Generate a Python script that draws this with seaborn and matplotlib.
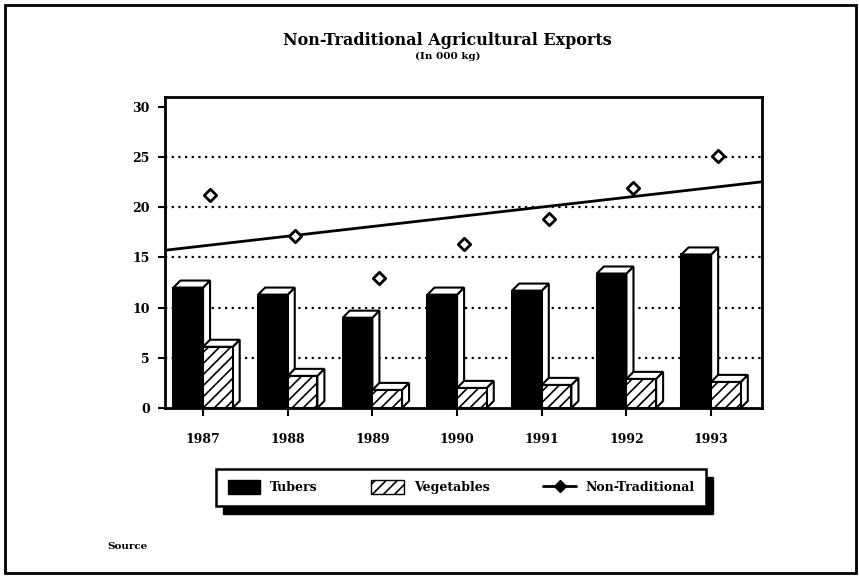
import numpy as np
import pandas as pd
import seaborn as sns
import matplotlib.pyplot as plt
from matplotlib.patches import Polygon, Patch, Rectangle
from matplotlib.lines import Line2D

years = ['1987', '1988', '1989', '1990', '1991', '1992', '1993']
tubers = [12.0, 11.3, 9.0, 11.3, 11.7, 13.4, 15.3]
vegetables = [6.1, 3.2, 1.8, 2.0, 2.3, 2.9, 2.6]
non_traditional = [21.2, 17.1, 13.0, 16.3, 18.8, 21.9, 25.1]
yticks = [0, 5, 10, 15, 20, 25, 30]

df = pd.DataFrame({'year': years * 2,
                   'value': tubers + vegetables,
                   'series': ['Tubers'] * 7 + ['Vegetables'] * 7})
pos = np.arange(len(years))

sns.set_style('white')
plt.rcParams['font.family'] = ['DejaVu Serif']
plt.rcParams['font.weight'] = 'bold'
plt.rcParams['hatch.linewidth'] = 1.2
plt.rcParams['text.color'] = 'black'
plt.rcParams['xtick.color'] = 'black'
plt.rcParams['ytick.color'] = 'black'

fig = plt.figure(figsize=(8.59, 5.76), dpi=100)
ax = fig.add_axes([0.192, 0.2917, 0.695, 0.540])

sns.barplot(data=df, x='year', y='value', hue='series', ax=ax,
            palette={'Tubers': 'black', 'Vegetables': 'white'},
            edgecolor='black', linewidth=1.5, width=0.7, legend=False,
            zorder=3)
for bar in ax.containers[1]:
    bar.set_hatch('///')

# fake 3-D top and side faces on each bar
dx, dy = 0.083, 0.7
for cont in ax.containers:
    for bar in cont:
        x, w, h = bar.get_x(), bar.get_width(), bar.get_height()
        top = Polygon([(x, h), (x + dx, h + dy), (x + w + dx, h + dy), (x + w, h)],
                      facecolor='white', edgecolor='black', lw=1.5, zorder=3)
        side = Polygon([(x + w, 0), (x + w + dx, dy), (x + w + dx, h + dy), (x + w, h)],
                       facecolor='white', edgecolor='black', lw=1.5, zorder=2.9)
        ax.add_patch(side)
        ax.add_patch(top)

ax.set_xlim(-0.45, 6.6)
ax.set_ylim(0, 31)
sns.regplot(x=pos, y=non_traditional, ax=ax, scatter=False, ci=None,
            truncate=False, color='black', line_kws={'lw': 2, 'zorder': 4})
sns.scatterplot(x=pos + dx, y=non_traditional, ax=ax, marker='D', s=40,
                facecolor='white', edgecolor='black', linewidth=2, zorder=5)
ax.set_xlim(-0.45, 6.6)
ax.set_ylim(0, 31)

ax.set_yticks(yticks)
ax.set_yticklabels([str(t) for t in yticks], fontsize=9, fontweight='bold')
ax.set_xticks(pos)
ax.set_xticklabels(years, fontsize=9, fontweight='bold')
ax.tick_params(axis='x', direction='out', length=6, width=1.5, pad=12, bottom=True)
ax.tick_params(axis='y', direction='out', length=5, width=1.5, pad=6, left=True)
ax.set_xlabel('')
ax.set_ylabel('')
for t in yticks[1:-1]:
    ax.axhline(t, color='black', ls=(0, (1, 2)), lw=1.6, zorder=1)
for s in ax.spines.values():
    s.set_color('black')
    s.set_linewidth(2)

fig.text(0.521, 0.93, 'Non-Traditional Agricultural Exports', ha='center',
         va='center', fontsize=11.5, fontweight='bold')
fig.text(0.521, 0.902, '(In 000 kg)', ha='center', va='center',
         fontsize=7.5, fontweight='bold')
fig.text(0.125, 0.052, 'Source', ha='left', va='center', fontsize=7.5,
         fontweight='bold')

handles = [Patch(facecolor='black', edgecolor='black'),
           Patch(facecolor='white', edgecolor='black', hatch='///'),
           Line2D([], [], color='black', lw=2, marker='D', markersize=6)]
leg = fig.legend(handles, ['Tubers', 'Vegetables', 'Non-Traditional'],
                 loc='center', bbox_to_anchor=(0.537, 0.154), ncol=3,
                 frameon=True, fancybox=False, edgecolor='black',
                 prop={'size': 9, 'weight': 'bold'}, columnspacing=4.3,
                 handlelength=2.6, handleheight=1.3, borderpad=0.9,
                 framealpha=1)
leg.get_frame().set_linewidth(1.8)
leg.set_zorder(6)

# black drop shadow behind the legend box
fig.canvas.draw()
bb = leg.get_window_extent().transformed(fig.transFigure.inverted())
sx, sy = 7 / 859, 8 / 576
fig.add_artist(Rectangle((bb.x0 + sx, bb.y0 - sy), bb.width, bb.height,
                         transform=fig.transFigure, facecolor='black',
                         edgecolor='black', zorder=5))

# outer border
fig.add_artist(Rectangle((5 / 859, 3 / 576), 851 / 859, 568 / 576,
                         transform=fig.transFigure, fill=False,
                         edgecolor='black', lw=2))

fig.savefig('out.png', dpi=100)
